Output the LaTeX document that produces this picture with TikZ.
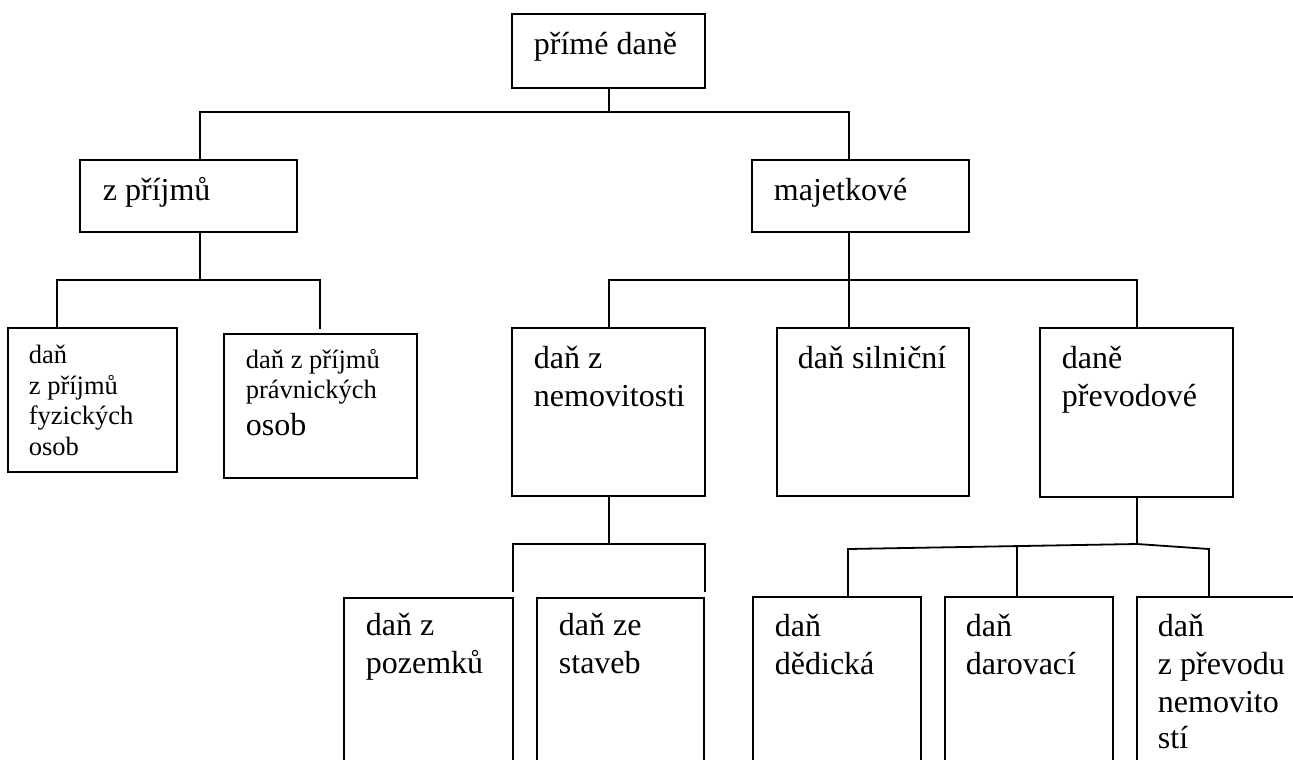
\documentclass[tikz,border=0pt]{standalone}
\usepackage{fontspec}
\setmainfont{Liberation Serif}
\begin{document}
\begin{tikzpicture}[x=1pt,y=-1pt, line width=1.8pt,
  box/.style={draw, rectangle, inner sep=0pt, outer sep=0pt, anchor=north west},
  big/.style={anchor=base west, inner sep=0pt, font=\fontsize{32}{38}\selectfont},
  small/.style={anchor=base west, inner sep=0pt, font=\fontsize{26.5}{31}\selectfont}]
\useasboundingbox (0,0) rectangle (1293,760);
\clip (0,0) rectangle (1293,760);

% boxes
\node[box, minimum width=193pt, minimum height=74pt] (root) at (512,14) {};
\node[box, minimum width=217pt, minimum height=72pt] (zp) at (80,160) {};
\node[box, minimum width=217pt, minimum height=72pt] (maj) at (752,160) {};
\node[box, minimum width=169pt, minimum height=144pt] (fo) at (8,328) {};
\node[box, minimum width=193pt, minimum height=144pt] (po) at (224,334) {};
\node[box, minimum width=193pt, minimum height=168pt] (nem) at (512,328) {};
\node[box, minimum width=192pt, minimum height=168pt] (sil) at (777,328) {};
\node[box, minimum width=193pt, minimum height=169pt] (prev) at (1040,328) {};
\node[box, minimum width=169pt, minimum height=200pt] (poz) at (344,598) {};
\node[box, minimum width=167pt, minimum height=200pt] (sta) at (537,598) {};
\node[box, minimum width=168pt, minimum height=200pt] (ded) at (753,597) {};
\node[box, minimum width=168pt, minimum height=200pt] (dar) at (945,597) {};
\node[box, minimum width=200pt, minimum height=200pt] (zpn) at (1137,597) {};

% junction coordinates
\coordinate (j0) at (609,112);
\coordinate (a1) at (200,112);
\coordinate (b1) at (849,112);
\coordinate (c1) at (200,280);
\coordinate (cL) at (57,280);
\coordinate (cR) at (320,280);
\coordinate (cRe) at (320,329);
\coordinate (d1) at (849,280);
\coordinate (dL) at (609,280);
\coordinate (dR) at (1137,280);
\coordinate (e0) at (609,544);
\coordinate (eL) at (513,544);
\coordinate (eR) at (705,544);
\coordinate (eLe) at (513,592);
\coordinate (eRe) at (705,592);
\coordinate (f0) at (1137,544);
\coordinate (fL) at (848,549);
\coordinate (fR) at (1209,549);
\coordinate (fM) at (1017,546);

% connectors
\draw (j0 |- root.south) -- (j0);
\draw (a1 |- zp.north) -- (a1) -- (b1) -- (b1 |- maj.north);
\draw (c1 |- zp.south) -- (c1);
\draw (cL |- fo.north) -- (cL) -- (cR) -- (cRe);
\draw (d1 |- maj.south) -- (d1 |- sil.north);
\draw (dL |- nem.north) -- (dL) -- (dR) -- (dR |- prev.north);
\draw (e0 |- nem.south) -- (e0);
\draw (eLe) -- (eL) -- (eR) -- (eRe);
\draw (f0 |- prev.south) -- (f0);
\draw (fL |- ded.north) -- (fL) -- (f0) -- (fR) -- (fR |- zpn.north);
\draw (fM) -- (fM |- dar.north);

% texts
\node[big] (t1) at (533,55) {přímé daně};
\node[big] (t2) at (102,200) {z příjmů};
\node[big] (t3) at (773,200) {majetkové};
\node[small] (t4a) at (28,363) {daň};
\node[small] (t4b) at (28,394) {z příjmů};
\node[small] (t4c) at (28,424) {fyzických};
\node[small] (t4d) at (28,455) {osob};
\node[small] (t5a) at (245,368) {daň z příjmů};
\node[small] (t5b) at (245,398) {právnických};
\node[big] (t5c) at (245,435) {osob};
\node[big] (t6a) at (533,368) {daň z};
\node[big] (t6b) at (533,406) {nemovitosti};
\node[big] (t7) at (797,368) {daň silniční};
\node[big] (t8a) at (1061,368) {daně};
\node[big] (t8b) at (1061,406) {převodové};
\node[big] (t9a) at (365,635) {daň z};
\node[big] (t9b) at (365,673) {pozemků};
\node[big] (t10a) at (558,635) {daň ze};
\node[big] (t10b) at (558,673) {staveb};
\node[big] (t11a) at (774,636) {daň};
\node[big] (t11b) at (774,674) {dědická};
\node[big] (t12a) at (965,636) {daň};
\node[big] (t12b) at (965,674) {darovací};
\node[big] (t13a) at (1157,636) {daň};
\node[big] (t13b) at (1157,674) {z převodu};
\node[big] (t13c) at (1157,712) {nemovito};
\node[big] (t13d) at (1157,748) {stí};
\end{tikzpicture}
\end{document}
